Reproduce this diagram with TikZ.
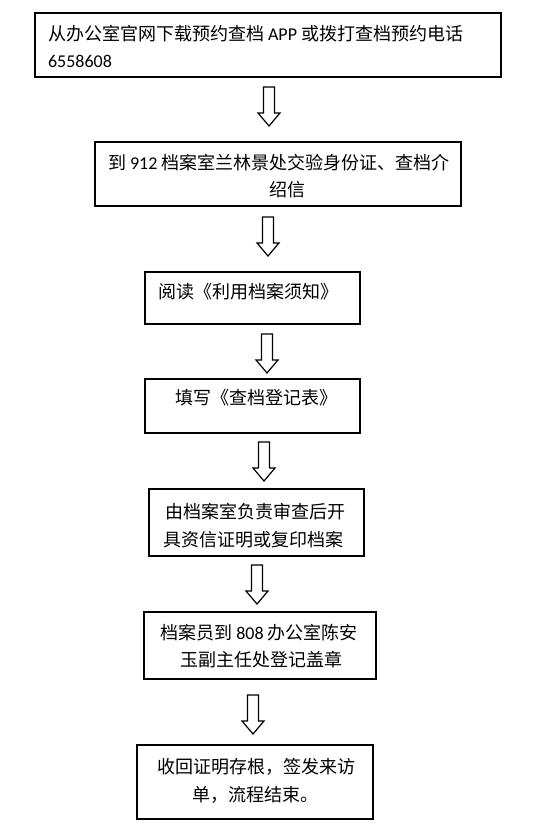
\documentclass[tikz,border=0pt]{standalone}
\usepackage{fontspec}
\setmainfont{Noto Sans CJK SC}
\newfontfamily\lat{Carlito}
\begin{document}
\begin{tikzpicture}[x=1bp,y=-1bp,
  box/.style={draw=black,line width=1.2bp,fill=white,anchor=north west,inner sep=0pt,outer sep=0pt},
  txt/.style={inner sep=0pt,outer sep=0pt,font=\fontsize{18bp}{22bp}\selectfont},
  downarrow/.pic={\draw[line width=1.2bp,fill=white,line join=miter]
     (-5.5,0) -- (5.5,0) -- (5.5,26) -- (11,26) -- (0,39) -- (-11,26) -- (-5.5,26) -- cycle;}]
\fill[white] (0,0) rectangle (556,839);
\useasboundingbox (0,0) rectangle (556,839);
% boxes
\node[box,minimum width=466bp,minimum height=64bp] (b1) at (35,13) {};
\node[box,minimum width=366bp,minimum height=64bp] (b2) at (95,142) {};
\node[box,minimum width=215bp,minimum height=52bp] (b3) at (145,272) {};
\node[box,minimum width=215bp,minimum height=54bp] (b4) at (145,379) {};
\node[box,minimum width=215bp,minimum height=67bp] (b5) at (149,489) {};
\node[box,minimum width=232bp,minimum height=67bp] (b6) at (144,612) {};
\node[box,minimum width=236bp,minimum height=74bp] (b7) at (137,745) {};
% texts
\node[txt,anchor=west] (t1a) at (48,34) {从办公室官网下载预约查档 {\lat APP} 或拨打查档预约电话};
\node[txt,anchor=west] (t1b) at (48,61) {\lat 6558608};
\node[txt,anchor=west] (t2a) at (108,163) {到 {\lat 912} 档案室兰林景处交验身份证、查档介};
\node[txt] (t2b) at (287,190) {绍信};
\node[txt,anchor=west] (t3) at (158,292) {阅读《利用档案须知》};
\node[txt,anchor=west] (t4) at (175,398) {填写《查档登记表》};
\node[txt,anchor=west] (t5a) at (165,512) {由档案室负责审查后开};
\node[txt,anchor=west] (t5b) at (163,540) {具资信证明或复印档案};
\node[txt] (t6a) at (259,633) {档案员到 {\lat 808} 办公室陈安};
\node[txt] (t6b) at (261,660) {玉副主任处登记盖章};
\node[txt] (t7a) at (256,767) {收回证明存根，签发来访};
\node[txt,anchor=west] (t7b) at (192,795) {单，流程结束。};
% arrows
\coordinate (a1) at (269,87);
\coordinate (a2) at (268,217);
\coordinate (a3) at (267,334);
\coordinate (a4) at (264,442);
\coordinate (a5) at (257,565);
\coordinate (a6) at (253,695);
\pic at (a1) {downarrow};
\pic at (a2) {downarrow};
\pic at (a3) {downarrow};
\pic at (a4) {downarrow};
\pic at (a5) {downarrow};
\pic at (a6) {downarrow};
\end{tikzpicture}
\end{document}
